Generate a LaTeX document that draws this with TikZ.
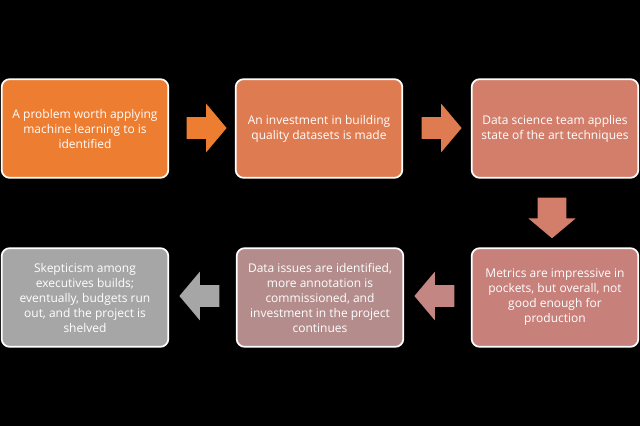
\documentclass[tikz,border=0pt]{standalone}
\usepackage{fontspec}
\setmainfont{Open Sans}
\usetikzlibrary{shapes.arrows}

\definecolor{stageA}{HTML}{ED7D31}
\definecolor{stageB}{HTML}{DE7B50}
\definecolor{stageC}{HTML}{D27E6A}
\definecolor{stageD}{HTML}{C8807A}
\definecolor{stageE}{HTML}{B48C8C}
\definecolor{stageF}{HTML}{A6A6A6}
\definecolor{linkE}{HTML}{C48682}

\begin{document}
\begin{tikzpicture}[x=0.75pt, y=-0.75pt,
    card/.style={draw=white, line width=1.3pt, rounded corners=6pt,
        minimum width=125pt, minimum height=74pt, inner sep=0pt,
        align=center, text=white, font=\fontsize{9}{11.25}\selectfont},
    flow/.style={single arrow, draw=none, inner sep=8pt,
        minimum height=30pt, minimum width=36pt,
        single arrow head extend=10pt, single arrow tip angle=100}]
    % background and page size
    \fill[black] (0,0) rectangle (640,426);

    % top row
    \node[card, fill=stageA] (problem) at (85,128.5)
        {A problem worth applying\\machine learning to is\\identified};
    \node[card, fill=stageB] (invest) at (319,128.5)
        {An investment in building\\quality datasets is made};
    \node[card, fill=stageC] (science) at (555,128.5)
        {Data science team applies\\state of the art techniques};

    % bottom row
    \node[card, fill=stageD] (metrics) at (555,297.5)
        {Metrics are impressive in\\pockets, but overall, not\\good enough for\\production};
    \node[card, fill=stageE] (issues) at (320,297.5)
        {Data issues are identified,\\more annotation is\\commissioned, and\\investment in the project\\continues};
    \node[card, fill=stageF] (shelved) at (85,297.5)
        {Skepticism among\\executives builds;\\eventually, budgets run\\out, and the project is\\shelved};

    % block arrows between the stages
    \node[flow, fill=stageA] (toinvest) at (202,128) {};
    \node[flow, fill=stageB] (toscience) at (437,128) {};
    \node[flow, fill=stageC, inner sep=10.5pt, minimum width=35pt,
        single arrow head extend=7pt, shape border rotate=270] (tometrics) at (552,212) {};
    \node[flow, fill=linkE, shape border rotate=180] (toissues) at (439,296) {};
    \node[flow, fill=stageF, shape border rotate=180] (toshelved) at (204,296) {};
\end{tikzpicture}
\end{document}
